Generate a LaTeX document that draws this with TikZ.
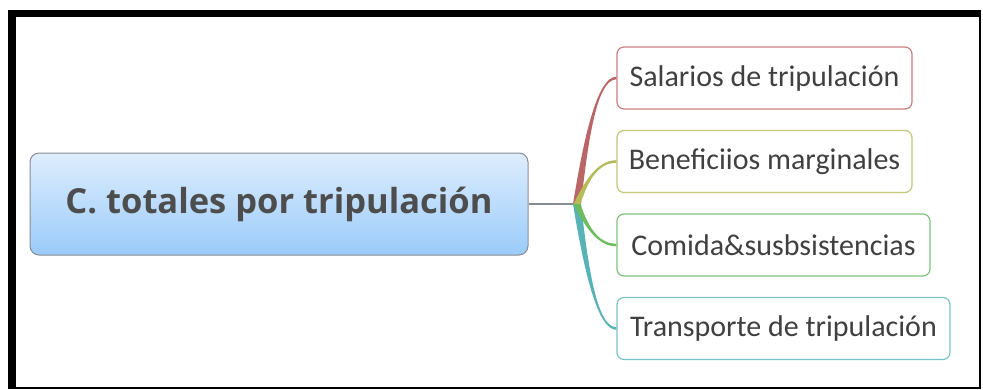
\documentclass[tikz,border=0pt]{standalone}
\usepackage{fontspec}
\setmainfont{Carlito}
\newfontfamily\centralfont{Open Sans}
\usetikzlibrary{calc}
\definecolor{ctop}{RGB}{222,237,253}
\definecolor{cbot}{RGB}{154,203,250}
\definecolor{cborder}{RGB}{135,140,145}
\definecolor{ctext}{RGB}{77,77,77}
\definecolor{btext}{RGB}{64,64,64}
\definecolor{redl}{RGB}{186,102,102}
\definecolor{redb}{RGB}{200,128,128}
\definecolor{yell}{RGB}{182,186,88}
\definecolor{yelb}{RGB}{196,198,122}
\definecolor{grel}{RGB}{108,188,94}
\definecolor{greb}{RGB}{126,196,126}
\definecolor{teal2}{RGB}{88,178,182}
\definecolor{tealb}{RGB}{120,196,200}
% #1 start, #2 end anchor, #3 colour, #4 tip half-width (signed), #5 root half-width
\newcommand\tbranch[5]{%
  \fill[#3] let \p1=(#1), \p2=(#2) in
    ({\x1-#5},\y1) .. controls ({\x1+0.22*(\x2-\x1)-0.6*#5},{\y1+0.5*(\y2-\y1)}) and ({\x1+0.5*(\x2-\x1)},{\y2+#4}) .. (\x2,{\y2+#4})
    -- (\x2,{\y2-#4}) .. controls ({\x1+0.5*(\x2-\x1)},{\y2-#4}) and ({\x1+0.22*(\x2-\x1)+0.6*#5},{\y1+0.5*(\y2-\y1)}) .. ({\x1+#5},\y1) -- cycle;}
\begin{document}
\begin{tikzpicture}[x=1pt,y=-1pt,
  central/.style={draw=cborder, line width=1pt, rounded corners=9pt,
    top color=ctop, bottom color=cbot, minimum width=498pt, minimum height=102pt,
    inner sep=0pt, text=ctext, font=\centralfont\fontsize{34.5}{40}\selectfont\bfseries},
  branch/.style={draw=#1, line width=1.2pt, rounded corners=7pt, fill=white,
    minimum height=62pt, inner sep=0pt, text=btext, font=\fontsize{30}{36}\selectfont}]
\useasboundingbox (0,0) rectangle (983,389);
\fill[white] (0,0) rectangle (983,389);
\fill[black] (8,10) rectangle (981,388.5);
\fill[white] (16,17.3) rectangle (979,387);
\node[central] (c) at (279,204) {C. totales por tripulación};
\node[branch=redb, minimum width=295pt] (s1) at (764.5,78) {Salarios de tripulación};
\node[branch=yelb, minimum width=295pt] (s2) at (764.5,161.5) {Beneficiios marginales};
\node[branch=greb, minimum width=313pt] (s3) at (773.5,245) {Comida\&susbsistencias};
\node[branch=tealb, minimum width=333pt] (s4) at (783.5,328.5) {Transporte de tripulación};
\coordinate (j) at (577,204);
\draw[cborder, line width=1.2pt] (c.east) -- (j);
\tbranch{j}{s1.west}{redl}{1.3pt}{4pt}
\tbranch{j}{s4.west}{teal2}{-1.3pt}{4pt}
\tbranch{j}{s2.west}{yell}{1.3pt}{3.3pt}
\tbranch{j}{s3.west}{grel}{-1.3pt}{3.3pt}
\end{tikzpicture}
\end{document}
